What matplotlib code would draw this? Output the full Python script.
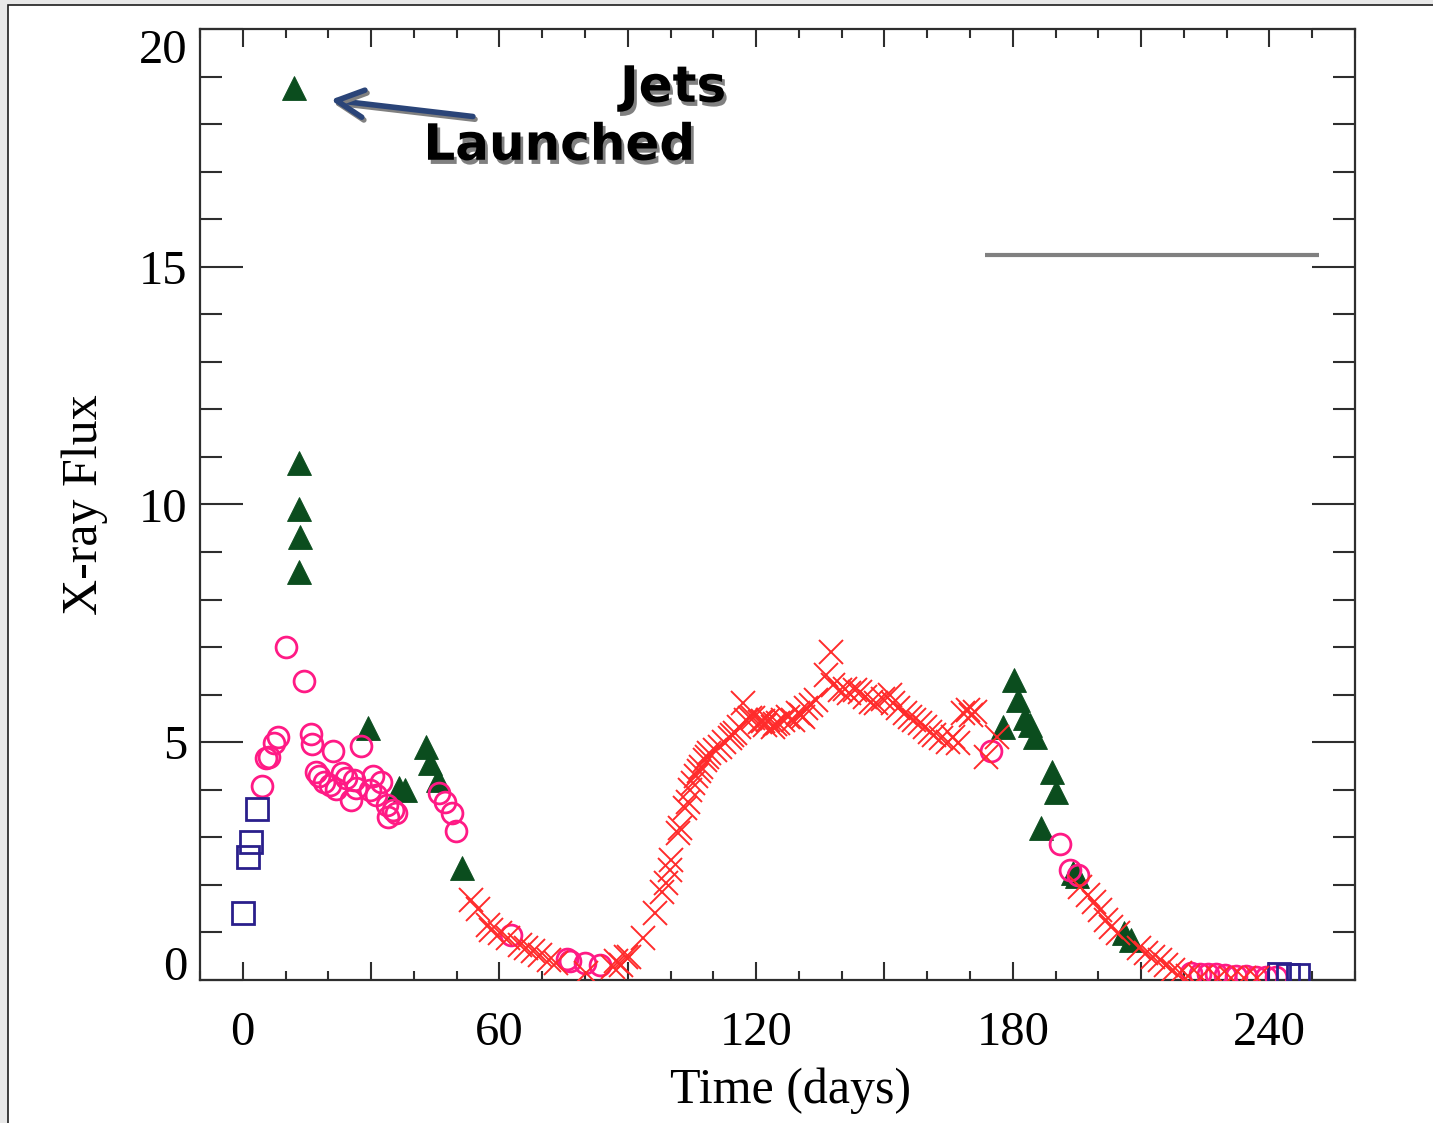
import matplotlib
matplotlib.use('Agg')
import matplotlib.pyplot as plt
import matplotlib.patheffects as pe
from matplotlib.patches import Rectangle
from matplotlib.ticker import MultipleLocator

# ---------------- data ----------------
square_day = [0.0, 1.3, 2.0, 3.4, 242.3, 244.3, 246.6]
square_flux = [1.40, 2.59, 2.91, 3.60, 0.13, 0.10, 0.10]

circle_day = [4.4, 5.4, 6.1, 7.3, 8.3, 10.2, 14.3, 15.9, 16.1, 17.1, 17.8, 18.9,
              20.3, 21.1, 21.7, 23.1, 24.2, 25.2, 25.9, 26.4, 27.7, 29.7, 30.5,
              31.2, 32.4, 33.6, 34.0, 35.1, 35.9, 45.9, 47.2, 48.8, 49.8,
              62.6, 75.9, 76.6, 79.9, 83.4,
              175.0, 191.0, 193.3, 195.2,
              221.7, 223.7, 225.6, 227.5, 229.5, 232.2, 234.6, 236.9, 239.3, 241.6]
circle_flux = [4.07, 4.66, 4.70, 4.98, 5.10, 7.00, 6.29, 5.17, 4.96, 4.38, 4.28, 4.17,
               4.10, 4.82, 4.01, 4.36, 4.24, 3.79, 4.21, 4.03, 4.93, 4.00, 4.28,
               3.89, 4.17, 3.68, 3.43, 3.58, 3.51, 3.93, 3.75, 3.52, 3.14,
               0.95, 0.44, 0.39, 0.35, 0.32,
               4.82, 2.87, 2.31, 2.21,
               0.14, 0.13, 0.12, 0.12, 0.10, 0.09, 0.08, 0.07, 0.07, 0.06]

tri_day = [11.9, 13.2, 13.1, 13.3, 13.1, 29.3, 36.5, 37.9, 42.9, 43.7, 45.6, 51.3,
           177.7, 180.4, 181.2, 182.8, 184.0, 185.3, 186.6, 189.2, 190.0, 194.0,
           195.0, 206.1, 207.7]
tri_flux = [18.76, 10.88, 9.90, 9.32, 8.59, 5.29, 4.03, 4.00, 4.89, 4.56, 4.21, 2.35,
            5.33, 6.31, 5.89, 5.50, 5.36, 5.12, 3.19, 4.38, 3.96, 2.24,
            2.18, 0.98, 0.84]

cross_day = [53.4, 55.0, 57.3, 58.1, 60.2, 62.0, 64.7, 66.3, 67.8, 69.4, 71.7, 73.3,
             80.3, 86.5, 87.3, 88.5, 89.7, 90.4, 93.6, 96.3, 98.1, 99.0, 99.8,
             100.2, 101.7, 102.1, 103.3, 104.1, 104.5, 105.3, 106.0, 106.6, 107.2,
             108.0, 108.5, 109.1, 110.3, 111.5, 112.6, 113.8, 114.3, 115.0, 116.1,
             116.9, 117.7, 118.5, 119.3, 120.8, 121.5, 122.0, 122.8, 123.9, 124.5,
             125.1, 126.3, 127.4, 128.6, 129.8, 130.4, 131.0, 131.7, 132.9, 134.1,
             136.4, 137.6, 138.0, 139.5, 140.7, 141.8, 143.0, 144.2, 145.4, 146.9,
             148.1, 149.6, 151.2, 152.0, 153.1, 154.7, 155.9, 157.0, 158.2, 159.4,
             160.6, 161.7, 163.3, 164.8, 166.0, 167.2, 168.4, 169.5, 170.3, 171.1,
             173.8, 176.3,
             195.6, 197.5, 199.1, 200.3, 201.8, 203.0, 204.6, 209.6, 211.2, 212.7,
             214.3, 215.9, 217.4, 219.0, 221.0, 224.0, 228.0, 231.0, 234.0, 237.0]
cross_flux = [1.68, 1.50, 1.16, 1.05, 0.98, 0.88, 0.74, 0.67, 0.60, 0.53, 0.42, 0.35,
              0.14, 0.28, 0.39, 0.32, 0.49, 0.49, 0.88, 1.40, 1.86, 2.03, 2.31,
              2.52, 3.09, 3.19, 3.61, 3.75, 4.00, 4.15, 4.28, 4.40, 4.49,
              4.63, 4.70, 4.77, 4.84, 4.91, 5.01, 5.08, 5.15, 5.19, 5.33,
              5.82, 5.47, 5.50, 5.50, 5.43, 5.45, 5.36, 5.47, 5.33, 5.38,
              5.40, 5.47, 5.54, 5.47, 5.61, 5.58, 5.54, 5.71, 5.78, 5.89,
              6.41, 6.90, 6.20, 6.10, 6.13, 6.03, 6.10, 6.06, 5.96, 5.85,
              5.82, 5.92, 5.99, 5.82, 5.71, 5.61, 5.54, 5.47, 5.40, 5.33,
              5.22, 5.15, 5.08, 5.01, 5.12, 4.98, 5.61, 5.68, 5.57, 5.64,
              4.70, 5.10,
              1.96, 1.79, 1.65, 1.47, 1.26, 1.12, 0.98, 0.67, 0.56, 0.49,
              0.42, 0.32, 0.21, 0.14, 0.08, 0.06, 0.05, 0.05, 0.04, 0.04]

gray_line_x = [173.4, 251.7]
gray_line_y = [15.25, 15.25]

xtick_pos = [0, 30, 60, 90, 120, 150, 180, 210, 240]
xtick_labels = ['0', '', '60', '', '120', '', '180', '', '240']
ytick_pos = [0, 5, 10, 15, 20]
ytick_labels = ['0', '5', '10', '15', '20']

# ---------------- figure ----------------
plt.rcParams['font.family'] = ['Liberation Serif', 'DejaVu Serif']

W, H = 1433, 1123
fig = plt.figure(figsize=(W / 100, H / 100), dpi=100, facecolor='#e8e8e8')
frame = Rectangle((8 / W, -0.05), 1.2, (H - 5) / H + 0.05,
                  transform=fig.transFigure, facecolor='white',
                  edgecolor='#1e1e1e', lw=1.2, zorder=-10)
fig.patches.append(frame)

ax = fig.add_axes([200 / W, (H - 980) / H, 1155 / W, 951 / H])
ax.set_facecolor('white')

ax.plot(tri_day, tri_flux, ls='none', marker='^', ms=17, mfc='#0b4d1e',
        mec='#0b4d1e', mew=0.6, zorder=3)
ax.plot(circle_day, circle_flux, ls='none', marker='o', ms=15, mfc='none',
        mec='#ff1a85', mew=2.0, zorder=4)
ax.plot(square_day, square_flux, ls='none', marker='s', ms=15.5, mfc='none',
        mec='#2a1f8c', mew=2.0, zorder=4)
ax.plot(cross_day, cross_flux, ls='none', marker='x', ms=17, mec='#ff2b2b',
        mew=1.4, zorder=5)
ax.plot(gray_line_x, gray_line_y, color='#808080', lw=3, solid_capstyle='butt',
        zorder=2)

ax.set_xlim(-10, 260)
ax.set_ylim(0, 20)
ax.set_xticks(xtick_pos)
ax.set_xticklabels(xtick_labels)
ax.xaxis.set_minor_locator(MultipleLocator(10))
ax.set_yticks(ytick_pos)
ax.set_yticklabels(ytick_labels)
ax.yaxis.set_minor_locator(MultipleLocator(1))

tc = '#2e2e2e'
ax.tick_params(axis='x', which='major', direction='in', length=13, width=1.5,
               top=True, bottom=True, pad=22, labelsize=35, color=tc)
ax.tick_params(axis='x', which='minor', direction='in', length=6.5, width=1.5,
               top=True, bottom=True, color=tc)
ax.tick_params(axis='y', which='major', direction='in', length=31, width=1.5,
               left=True, right=True, pad=9, labelsize=35, color=tc)
ax.tick_params(axis='y', which='minor', direction='in', length=16, width=1.5,
               left=True, right=True, color=tc)
for s in ax.spines.values():
    s.set_linewidth(1.6)
    s.set_color(tc)

ylabs = ax.get_yticklabels()
ylabs[0].set_verticalalignment('baseline')
ylabs[-1].set_verticalalignment('top')

ax.set_xlabel('Time (days)', fontsize=36)
ax.xaxis.set_label_coords(0.511, -0.092)
ax.set_ylabel('X-ray Flux', fontsize=36)
ax.yaxis.set_label_coords(-0.080, 0.5)

# ---------------- annotation ----------------
shadow = [pe.SimplePatchShadow(offset=(2, -3), shadow_rgbFace='#808080', alpha=1.0),
          pe.Normal()]
ax.text(100.6, 18.47, 'Jets', fontsize=36, fontweight='bold', family='DejaVu Sans',
        ha='center', va='baseline', path_effects=shadow, zorder=6)
ax.text(74.0, 17.25, 'Launched', fontsize=36, fontweight='bold', family='DejaVu Sans',
        ha='center', va='baseline', path_effects=shadow, zorder=6)
ax.annotate('', xy=(20.5, 18.51), xytext=(53.8, 18.16),
            arrowprops=dict(arrowstyle='->,head_length=0.97,head_width=0.49',
                            lw=4, color='#2a4478', mutation_scale=20,
                            shrinkA=0, shrinkB=0,
                            path_effects=[pe.SimpleLineShadow(offset=(1.5, -2),
                                                              shadow_color='#808080',
                                                              alpha=1.0),
                                          pe.Normal()]),
            zorder=6)

fig.savefig('out.png', dpi=100, facecolor=fig.get_facecolor())
